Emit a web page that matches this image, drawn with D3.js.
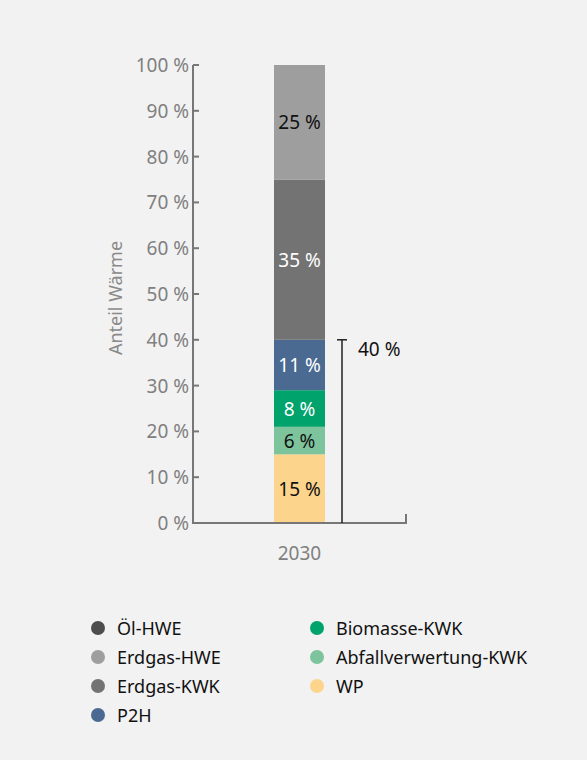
<!DOCTYPE html>
<html><head><meta charset="utf-8">
<script src="https://cdn.jsdelivr.net/npm/d3@7"></script>
<style>body{margin:0;background:#f2f2f2;}svg{display:block;font-family:"Noto Sans",sans-serif;}</style>
</head><body><svg id="chart" width="587" height="760"></svg>
<script>
const categories = ["2030"];
const series = ["Öl-HWE", "Erdgas-HWE", "Erdgas-KWK", "P2H", "Biomasse-KWK", "Abfallverwertung-KWK", "WP"];
const values = [0, 25, 35, 11, 8, 6, 15];
const colors = ["#4d4d4d", "#9e9e9e", "#737373", "#4a6a92", "#00a36c", "#7dc49d", "#fcd48c"];
const labelColors = ["#fff", "#111", "#fff", "#fff", "#fff", "#111", "#111"];
const yTicks = [0, 10, 20, 30, 40, 50, 60, 70, 80, 90, 100];
const bracketValue = 40;

const svg = d3.select("#chart");
const axisColor = "#777";
const y = d3.scaleLinear().domain([0, 100]).range([523, 65]);
const x = d3.scaleBand().domain(categories).range([274, 325]).padding(0);

// stack from bottom: WP first
const order = [6, 5, 4, 3, 2, 1, 0];
let acc = 0;
const segs = order.map(i => { const s = {i, y0: acc, y1: acc + values[i]}; acc += values[i]; return s; });

svg.selectAll("rect.seg").data(segs.filter(d => d.y1 > d.y0)).enter().append("rect")
  .attr("x", x("2030")).attr("width", x.bandwidth())
  .attr("y", d => y(d.y1)).attr("height", d => y(d.y0) - y(d.y1))
  .attr("fill", d => colors[d.i]);

svg.selectAll("text.seg").data(segs.filter(d => d.y1 > d.y0)).enter().append("text")
  .attr("x", x("2030") + x.bandwidth() / 2).attr("y", d => y((d.y0 + d.y1) / 2) + 7)
  .attr("text-anchor", "middle").attr("font-size", 19).attr("fill", d => labelColors[d.i])
  .text(d => values[d.i] + " %");

// y axis
svg.append("line").attr("x1", 193).attr("x2", 193).attr("y1", y(100)).attr("y2", y(0)).attr("stroke", axisColor).attr("stroke-width", 2);
svg.selectAll("line.tick").data(yTicks).enter().append("line")
  .attr("x1", 193).attr("x2", 199).attr("y1", d => y(d)).attr("y2", d => y(d)).attr("stroke", axisColor).attr("stroke-width", 2);
svg.selectAll("text.tick").data(yTicks).enter().append("text")
  .attr("x", 189).attr("y", d => y(d) + 7).attr("text-anchor", "end")
  .attr("font-size", 19).attr("fill", "#808080").text(d => d + " %");
// x axis
svg.append("line").attr("x1", 192).attr("x2", 407).attr("y1", y(0)).attr("y2", y(0)).attr("stroke", axisColor).attr("stroke-width", 2);
svg.append("line").attr("x1", 406).attr("x2", 406).attr("y1", y(0) - 9).attr("y2", y(0)).attr("stroke", axisColor).attr("stroke-width", 2);
svg.append("text").attr("x", x("2030") + x.bandwidth() / 2).attr("y", 560).attr("text-anchor", "middle")
  .attr("font-size", 19).attr("fill", "#808080").text("2030");
svg.append("text").attr("transform", "translate(122,298) rotate(-90)").attr("text-anchor", "middle")
  .attr("font-size", 18).attr("fill", "#8a8a8a").text("Anteil Wärme");

// bracket
svg.append("line").attr("x1", 342).attr("x2", 342).attr("y1", y(bracketValue)).attr("y2", y(0)).attr("stroke", "#222").attr("stroke-width", 1.5);
svg.append("line").attr("x1", 337).attr("x2", 347).attr("y1", y(bracketValue)).attr("y2", y(bracketValue)).attr("stroke", "#222").attr("stroke-width", 1.5);
svg.append("text").attr("x", 358).attr("y", y(bracketValue) + 16).attr("font-size", 19).attr("fill", "#111").text(bracketValue + " %");

// legend
const leg = svg.selectAll("g.leg").data(series).enter().append("g")
  .attr("transform", (d, i) => i < 4 ? `translate(98,${628 + i * 29})` : `translate(317,${628 + (i - 4) * 29})`);
leg.append("circle").attr("r", 7).attr("fill", (d, i) => colors[i]);
leg.append("text").attr("x", 19).attr("y", 7).attr("font-size", 18).attr("fill", "#111").text(d => d);
</script></body></html>
